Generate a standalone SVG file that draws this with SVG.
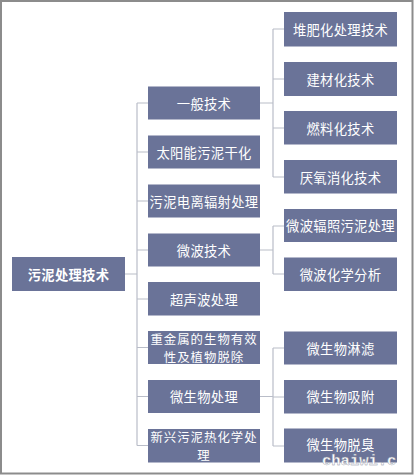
<svg xmlns="http://www.w3.org/2000/svg" width="414" height="475" viewBox="0 0 414 475">
<style>
.box{fill:#6a7398;}
.t{fill:#ffffff;font-family:"Noto Sans CJK SC","Noto Sans",sans-serif;font-size:13.3px;text-anchor:middle;dominant-baseline:central;letter-spacing:0.3px;}
.s{font-size:12.4px;letter-spacing:1px;}
.b{font-weight:bold;}
.ln{fill:none;stroke:#b9bdc8;stroke-width:1.2;}
</style>
<rect x="0" y="0" width="414" height="475" fill="#ffffff"/>
<rect x="1" y="1" width="411.5" height="472.5" fill="none" stroke="#8c8c8c" stroke-width="2"/>
<g id="connectors">
<path class="ln" d="M125,274 H137 M137,103 V445.5 M137,103 H148 M137,152 H148 M137,201 H148 M137,250 H148 M137,299 H148 M137,347.5 H148 M137,396.5 H148 M137,445.5 H148"/>
<path class="ln" d="M260,103 H273 M273,29 V177 M273,29 H284 M273,79 H284 M273,128 H284 M273,177 H284"/>
<path class="ln" d="M260,250 H273 M273,226 V274 M273,226 H284 M273,274 H284"/>
<path class="ln" d="M260,396.5 H273 M273,348 V446 M273,348 H284 M273,397 H284 M273,446 H284"/>
</g>
<g id="root"><rect class="box" x="12" y="257" width="113" height="34"/><text class="t b" x="68.5" y="274">污泥处理技术</text></g>
<g id="m1"><rect class="box" x="148" y="86.5" width="112" height="33"/><text class="t" x="204" y="103">一般技术</text></g>
<g id="m2"><rect class="box" x="148" y="135.5" width="112" height="33"/><text class="t" x="204" y="152">太阳能污泥干化</text></g>
<g id="m3"><rect class="box" x="148" y="184.5" width="112" height="33"/><text class="t" x="204" y="201">污泥电离辐射处理</text></g>
<g id="m4"><rect class="box" x="148" y="233.5" width="112" height="33"/><text class="t" x="204" y="250">微波技术</text></g>
<g id="m5"><rect class="box" x="148" y="282" width="112" height="33.5"/><text class="t" x="204" y="299">超声波处理</text></g>
<g id="m6"><rect class="box" x="148" y="331" width="112" height="33"/><text class="t s" x="204" y="338.5">重金属的生物有效</text><text class="t s" x="204" y="356.5">性及植物脱除</text></g>
<g id="m7"><rect class="box" x="148" y="380" width="112" height="33"/><text class="t" x="204" y="396.5">微生物处理</text></g>
<g id="m8"><rect class="box" x="148" y="429" width="112" height="33.5"/><text class="t s" x="204" y="436.5">新兴污泥热化学处</text><text class="t s" x="204" y="454.5">理</text></g>
<g id="r1"><rect class="box" x="284" y="12" width="113" height="34.5"/><text class="t" x="340.5" y="29">堆肥化处理技术</text></g>
<g id="r2"><rect class="box" x="284" y="62" width="113" height="34"/><text class="t" x="340.5" y="79">建材化技术</text></g>
<g id="r3"><rect class="box" x="284" y="111" width="113" height="33.5"/><text class="t" x="340.5" y="128">燃料化技术</text></g>
<g id="r4"><rect class="box" x="284" y="160" width="113" height="33.5"/><text class="t" x="340.5" y="177">厌氧消化技术</text></g>
<g id="r5"><rect class="box" x="284" y="209" width="113" height="33"/><text class="t" x="340.5" y="225.5">微波辐照污泥处理</text></g>
<g id="r6"><rect class="box" x="284" y="257.5" width="113" height="33.5"/><text class="t" x="340.5" y="274">微波化学分析</text></g>
<g id="r7"><rect class="box" x="284" y="331.5" width="113" height="33"/><text class="t" x="340.5" y="348">微生物淋滤</text></g>
<g id="r8"><rect class="box" x="284" y="380" width="113" height="33.5"/><text class="t" x="340.5" y="396.5">微生物吸附</text></g>
<g id="r9"><rect class="box" x="284" y="428.5" width="113" height="34"/><text class="t" x="340.5" y="444">微生物脱臭</text></g>
<text x="322" y="465" font-family="'Liberation Mono',monospace" font-size="15.5" font-weight="bold" fill="#ffffff" stroke="#8a8fa0" stroke-width="0.4">chaiwi.c</text>
</svg>
